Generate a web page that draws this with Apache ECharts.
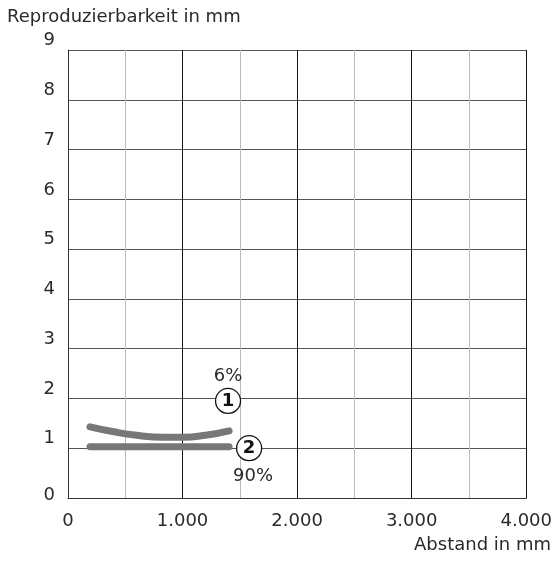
<!DOCTYPE html>
<html><head><meta charset="utf-8">
<script src="https://cdn.jsdelivr.net/npm/echarts@6/dist/echarts.min.js"></script>
<style>html,body{margin:0;padding:0;background:#fff}#c{width:555px;height:561px}</style>
</head><body><div id="c"></div>
<script>
const xTicks = [0, 1000, 2000, 3000, 4000];
const yTicks = [0,1,2,3,4,5,6,7,8,9];
const curve6 = [[192,1.43],[400,1.33],[600,1.26],[830,1.22],[1000,1.22],[1200,1.26],[1406,1.35]];
const curve90 = [[192,1.03],[800,1.03],[1406,1.03]];
const markers = [{name:'1', value:[1397,1.95]}, {name:'2', value:[1581,1.0]}];
const pctLabels = [{name:'6%', value:[1397,2.44]}, {name:'90%', value:[1616,0.44]}];
const xTitle = 'Abstand in mm';
const yTitle = 'Reproduzierbarkeit in mm';

const chart = echarts.init(document.getElementById('c'));
const font = 'DejaVu Sans, sans-serif';
const txt = '#2a2a2a';
const fmt = v => v === 0 ? '0' : (v/1000).toFixed(3);
chart.setOption({
  animation:false,
  grid:{left:68,right:28,top:50,bottom:63},
  xAxis:{type:'value',min:0,max:4000,interval:500,
    axisLine:{show:true,lineStyle:{color:'#333',width:1}},
    axisTick:{show:false},
    axisLabel:{color:txt,fontSize:18,fontFamily:font,margin:14,
      formatter:v=> xTicks.includes(v) ? fmt(v) : ''},
    splitLine:{show:true,lineStyle:{color:['#111','#bbb'],width:1}}
  },
  yAxis:{type:'value',min:0,max:9,interval:1,
    axisLine:{show:true,lineStyle:{color:'#333',width:1}},
    axisTick:{show:false},
    axisLabel:{color:txt,fontSize:18,fontFamily:font,margin:13,
      formatter:v=> yTicks.includes(v) ? (v===0 ? '{z|0}' : '{n|'+v+'}') : '',
      rich:{
        n:{fontSize:18,fontFamily:font,color:txt,padding:[0,0,19,0]},
        z:{fontSize:18,fontFamily:font,color:txt,padding:[0,0,5,0]}
      }},
    splitLine:{show:true,lineStyle:{color:'#555',width:1}}
  },
  graphic:[
    {type:'text',left:7,top:8,style:{text:yTitle,fontSize:18,fontFamily:font,fill:txt}},
    {type:'text',right:4,top:536,style:{text:xTitle,fontSize:18,fontFamily:font,fill:txt}}
  ],
  series:[
    {type:'line',data:curve6,smooth:true,symbol:'none',
      lineStyle:{color:'#777',width:7,cap:'round'}},
    {type:'line',data:curve90,symbol:'none',
      lineStyle:{color:'#777',width:7,cap:'round'}},
    {type:'scatter',data:markers,symbol:'circle',symbolSize:25,z:5,
      itemStyle:{color:'#fff',borderColor:'#111',borderWidth:1.3,opacity:1},
      label:{show:true,position:'inside',formatter:p=>p.name,color:'#111',fontSize:18,fontWeight:'bold',fontFamily:font}},
    {type:'scatter',data:pctLabels,symbolSize:1,z:5,
      itemStyle:{color:'rgba(0,0,0,0)',opacity:1},
      label:{show:true,position:'inside',formatter:p=>p.name,color:txt,fontSize:18,fontFamily:font}}
  ]
});
</script></body></html>
